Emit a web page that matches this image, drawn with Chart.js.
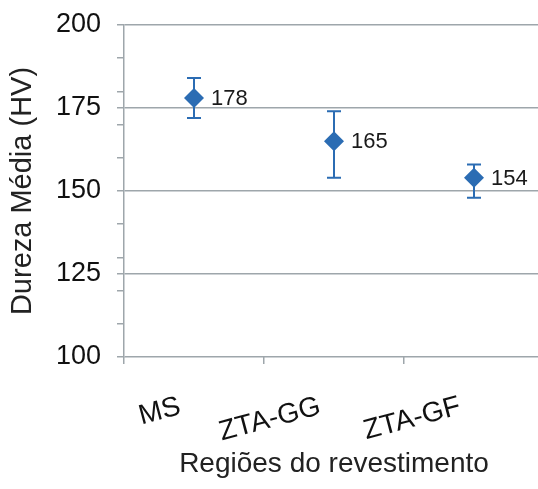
<!DOCTYPE html>
<html>
<head>
<meta charset="utf-8">
<script src="https://cdn.jsdelivr.net/npm/chart.js@4.4.0/dist/chart.umd.min.js"></script>
<style>
  html, body { margin: 0; padding: 0; background: #fff; overflow: hidden; }
  #wrap { width: 554px; height: 489px; }
</style>
</head>
<body>
<div id="wrap"><canvas id="hardnessChart"></canvas></div>
<script>
const categories = ["MS", "ZTA-GG", "ZTA-GF"];
const hardness = [178, 165, 154];
const errorLow = [172, 154, 148];
const errorHigh = [184, 174, 158];
const yTickValues = [100, 110, 120, 125, 130, 140, 150, 160, 170, 175, 180, 190, 200];

const blue = "#2b6cb3";
const gray = "#9ea6ab";

// error bars with caps, drawn under the markers
const errorBars = {
  id: "errorBars",
  beforeDatasetsDraw(chart) {
    const ctx = chart.ctx;
    const x = chart.scales.x;
    const y = chart.scales.y;
    ctx.save();
    ctx.strokeStyle = blue;
    ctx.lineWidth = 2;
    hardness.forEach((v, i) => {
      const px = x.getPixelForValue(i);
      const top = y.getPixelForValue(errorHigh[i]);
      const bot = y.getPixelForValue(errorLow[i]);
      ctx.beginPath();
      ctx.moveTo(px, top);
      ctx.lineTo(px, bot);
      ctx.moveTo(px - 7, top);
      ctx.lineTo(px + 7, top);
      ctx.moveTo(px - 7, bot);
      ctx.lineTo(px + 7, bot);
      ctx.stroke();
    });
    ctx.restore();
  },
};

// value labels to the right of each point
const valueLabels = {
  id: "valueLabels",
  afterDatasetsDraw(chart) {
    const ctx = chart.ctx;
    const meta = chart.getDatasetMeta(0);
    ctx.save();
    ctx.font = "22px 'Liberation Sans', Arial, sans-serif";
    ctx.fillStyle = "#1a1a1a";
    ctx.textAlign = "left";
    ctx.textBaseline = "middle";
    meta.data.forEach((pt, i) => {
      ctx.fillText(String(hardness[i]), pt.x + 17, pt.y + 1);
    });
    ctx.restore();
  },
};

const chart = new Chart(document.getElementById("hardnessChart"), {
  type: "line",
  data: {
    labels: categories,
    datasets: [
      {
        data: hardness,
        showLine: false,
        pointStyle: "rectRot",
        pointRadius: 10,
        pointBackgroundColor: blue,
        pointBorderColor: blue,
        pointBorderWidth: 0,
      },
    ],
  },
  options: {
    responsive: true,
    maintainAspectRatio: false,
    animation: false,
    layout: { padding: { top: 25, left: 4, right: 2, bottom: 8 } },
    plugins: {
      legend: { display: false },
      tooltip: { enabled: false },
    },
    scales: {
      x: {
        offset: true,
        afterFit(scale) {
          scale.height = 124;
        },
        grid: {
          display: true,
          offset: true,
          drawOnChartArea: false,
          tickLength: 7,
          color: gray,
          lineWidth: 1.5,
        },
        border: { display: false },
        ticks: {
          minRotation: 15,
          maxRotation: 15,
          labelOffset: -14,
          padding: 26,
          color: "#111",
          font: { family: "'Liberation Sans', Arial, sans-serif", size: 28 },
        },
        title: {
          display: true,
          text: "Regiões do revestimento",
          color: "#222",
          padding: { top: 0, bottom: 0 },
          font: { family: "'Liberation Sans', Arial, sans-serif", size: 28 },
        },
      },
      y: {
        min: 100,
        max: 200,
        afterBuildTicks(scale) {
          scale.ticks = yTickValues.map((v) => ({ value: v }));
        },
        afterFit(scale) {
          scale.width = 120;
          scale.paddingTop = 0;
          scale.paddingBottom = 0;
        },
        grid: {
          color: (c) => (c.tick && c.tick.value % 25 === 0 ? gray : "rgba(0,0,0,0)"),
          tickColor: gray,
          tickLength: 7,
          lineWidth: 1.5,
        },
        border: { display: true, color: gray, width: 1.5 },
        ticks: {
          autoSkip: false,
          padding: 16,
          color: "#111",
          callback: (v) => (v % 25 === 0 ? v : ""),
          font: { family: "'Liberation Sans', Arial, sans-serif", size: 27, lineHeight: 1 },
        },
        title: {
          display: true,
          text: "Dureza Média (HV)",
          color: "#222",
          padding: { top: 2, bottom: 0 },
          font: { family: "'Liberation Sans', Arial, sans-serif", size: 29 },
        },
      },
    },
  },
  plugins: [errorBars, valueLabels],
});
</script>
</body>
</html>
